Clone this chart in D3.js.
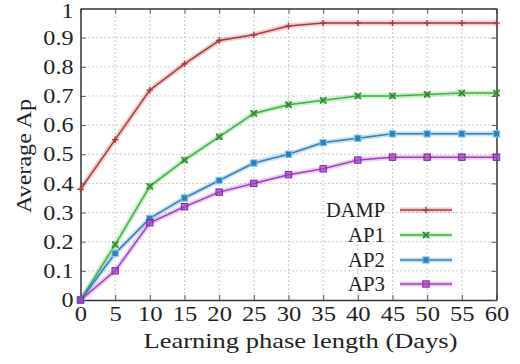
<!DOCTYPE html>
<html><head><meta charset="utf-8">
<script src="https://cdn.jsdelivr.net/npm/d3@7"></script>
<style>body{margin:0;background:#fff}svg{display:block}</style>
</head><body><svg id="c" width="520" height="364"></svg>
<script>
const xValues=[0,5,10,15,20,25,30,35,40,45,50,55,60];
const damp=[0.38,0.55,0.72,0.81,0.89,0.91,0.94,0.95,0.95,0.95,0.95,0.95,0.95];
const ap1=[0,0.19,0.39,0.48,0.56,0.64,0.67,0.685,0.70,0.70,0.705,0.71,0.71];
const ap2=[0,0.16,0.28,0.35,0.41,0.47,0.50,0.54,0.555,0.57,0.57,0.57,0.57];
const ap3=[0,0.10,0.265,0.32,0.37,0.40,0.43,0.45,0.48,0.49,0.49,0.49,0.49];
const seriesNames=["DAMP","AP1","AP2","AP3"];
const seriesColors=["#b3363b","#3db53d","#2f7fc0","#a23ec9"];
const xTicks=[0,5,10,15,20,25,30,35,40,45,50,55,60];
const yTicks=[0,0.1,0.2,0.3,0.4,0.5,0.6,0.7,0.8,0.9,1];
const xTitle="Learning phase length (Days)";
const yTitle="Average Ap";

const FONT="Liberation Serif";
const svg=d3.select("#c");
const L=80.5,R=496.5,T=8.5,B=300;
const x=d3.scaleLinear().domain([0,60]).range([L,R]);
const y=d3.scaleLinear().domain([0,1]).range([B,T]);

// grid
const g=svg.append("g");
g.selectAll("line.gx").data(xTicks.slice(1,-1)).join("line")
 .attr("x1",d=>x(d)).attr("x2",d=>x(d)).attr("y1",T).attr("y2",B)
 .attr("stroke","#aaa").attr("stroke-width",0.8).attr("stroke-dasharray","1.5,2.5");
g.selectAll("line.gy").data(yTicks.slice(1,-1)).join("line")
 .attr("y1",d=>y(d)).attr("y2",d=>y(d)).attr("x1",L).attr("x2",R)
 .attr("stroke","#aaa").attr("stroke-width",0.8).attr("stroke-dasharray","1.5,2.5");

// axes with inner ticks
const xa=svg.append("g").attr("transform",`translate(0,${B})`)
 .call(d3.axisBottom(x).tickValues(xTicks).tickSizeInner(-5).tickSizeOuter(0).tickPadding(5).tickFormat(d3.format("d")));
const xt=svg.append("g").attr("transform",`translate(0,${T})`)
 .call(d3.axisTop(x).tickValues(xTicks).tickSizeInner(-5).tickSizeOuter(0).tickFormat(""));
const ya=svg.append("g").attr("transform",`translate(${L},0)`)
 .call(d3.axisLeft(y).tickValues(yTicks).tickSizeInner(-5).tickSizeOuter(0).tickPadding(7).tickFormat(d=>d===0?"0":d===1?"1":d3.format(".1f")(d)));
const yr=svg.append("g").attr("transform",`translate(${R},0)`)
 .call(d3.axisRight(y).tickValues(yTicks).tickSizeInner(-5).tickSizeOuter(0).tickFormat(""));
[xa,xt,ya,yr].forEach(a=>{a.attr("font-family",FONT);a.select(".domain").attr("stroke","#333").attr("stroke-width",1.5);
 a.selectAll(".tick line").attr("stroke","#555");});
xa.selectAll(".tick text").attr("font-family",FONT).attr("font-size",22).attr("fill","#222")
 .attr("transform","scale(1.12,1)");
ya.selectAll(".tick text").attr("font-family",FONT).attr("font-size",21).attr("fill","#222")
 .attr("x",-7/1.15).attr("transform","scale(1.15,1)");
ya.selectAll(".tick").filter(d=>d===1).select("text").attr("dy","0.42em");

// titles
svg.append("text").attr("x",(L+R)/2+12).attr("y",348).attr("text-anchor","middle").attr("font-family",FONT).attr("fill","#222")
 .attr("font-size",22).attr("textLength",314).attr("lengthAdjust","spacingAndGlyphs").text(xTitle);
svg.append("text").attr("transform","translate(31,156) rotate(-90)").attr("text-anchor","middle").attr("font-family",FONT).attr("fill","#222")
 .attr("font-size",22).attr("textLength",114).attr("lengthAdjust","spacingAndGlyphs").text(yTitle);

// series
const data=[damp,ap1,ap2,ap3];
const line=d3.line().x((d,i)=>x(xValues[i])).y(d=>y(d));
function marker(sel,k,color,cx,cy){
  const s=3.2;
  if(k===0){
    sel.append("path").attr("d",`M${cx-s},${cy}H${cx+s}M${cx},${cy-s}V${cy+s}`).attr("stroke",color).attr("stroke-width",1.4);
  }else if(k===1){
    sel.append("rect").attr("x",cx-s).attr("y",cy-s).attr("width",2*s).attr("height",2*s).attr("fill",color).attr("opacity",0.55);
    sel.append("path").attr("d",`M${cx-s},${cy-s}L${cx+s},${cy+s}M${cx-s},${cy+s}L${cx+s},${cy-s}`).attr("stroke","#2a7a2a").attr("stroke-width",1.2);
  }else if(k===2){
    sel.append("rect").attr("x",cx-s).attr("y",cy-s).attr("width",2*s).attr("height",2*s).attr("fill",color).attr("stroke","#7fd0f0").attr("stroke-width",1);
  }else{
    sel.append("rect").attr("x",cx-s).attr("y",cy-s).attr("width",2*s).attr("height",2*s).attr("fill",color).attr("fill-opacity",0.7).attr("stroke","#7a2a9a").attr("stroke-width",1);
  }
}
data.forEach((arr,k)=>{
  const c=seriesColors[k];
  const sg=svg.append("g");
  sg.append("path").datum(arr).attr("d",line).attr("fill","none").attr("stroke",c).attr("stroke-opacity",0.25).attr("stroke-width",5);
  sg.append("path").datum(arr).attr("d",line).attr("fill","none").attr("stroke",c).attr("stroke-width",1.5);
  arr.forEach((v,i)=>marker(sg,k,c,x(xValues[i]),y(v)));
});

// legend
const legY=[210,235,260,284];
seriesNames.forEach((n,k)=>{
  const c=seriesColors[k];
  const lg=svg.append("g");
  lg.append("text").attr("x",385).attr("y",legY[k]).attr("dy","0.35em").attr("text-anchor","end").attr("font-family",FONT).attr("fill","#222")
    .attr("font-size",21).attr("textLength",[59,37,37,37][k]).attr("lengthAdjust","spacingAndGlyphs").text(n);
  lg.append("line").attr("x1",400).attr("x2",452).attr("y1",legY[k]).attr("y2",legY[k]).attr("stroke",c).attr("stroke-opacity",0.25).attr("stroke-width",5);
  lg.append("line").attr("x1",400).attr("x2",452).attr("y1",legY[k]).attr("y2",legY[k]).attr("stroke",c).attr("stroke-width",1.5);
  marker(lg,k,c,426,legY[k]);
});
</script></body></html>
